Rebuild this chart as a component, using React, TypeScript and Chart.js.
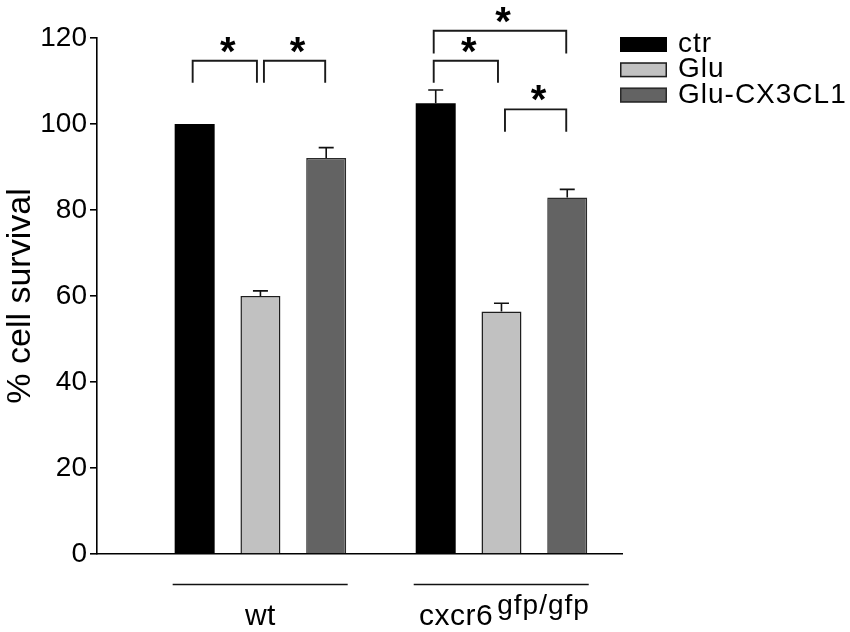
import React, { useEffect, useRef } from "react";
import { Chart, registerables } from "chart.js";

Chart.register(...registerables);

// ---------- data ----------
const categories = ["wt", "cxcr6"];
const categorySuperscripts = ["", "gfp/gfp"];
const seriesNames = ["ctr", "Glu", "Glu-CX3CL1"];
const ctrValues = [100, 104.8];
const gluValues = [60, 56.4];
const gluCxValues = [92.1, 82.9];
const ctrErrors = [0, 3.1];
const gluErrors = [1.2, 1.9];
const gluCxErrors = [2.4, 1.9];
const yTicks = [0, 20, 40, 60, 80, 100, 120];
const yTitle = "% cell survival";
// significance brackets: group index, series from/to, bracket top value, leg bottom value
const sigGroups = [0, 0, 1, 1, 1];
const sigFrom = [0, 1, 0, 0, 1];
const sigTo = [1, 2, 1, 2, 2];
const sigTop = [114.7, 114.7, 114.7, 121.7, 103.4];
const sigBottom = [109.6, 109.6, 109.6, 116.4, 98.2];
const sigLabel = "*";

const FONT = "'Liberation Sans', Arial, Helvetica, sans-serif";
const fills = ["#000000", "#c1c1c1", "#636363"];
const borders = ["#000000", "#1e1e1e", "#2a2a2a"];

export default function App() {
  const ref = useRef<HTMLCanvasElement | null>(null);

  useEffect(() => {
    document.body.style.margin = "0";
    const canvas = ref.current;
    if (!canvas) return;

    const valueSets = [ctrValues, gluValues, gluCxValues];
    const errorSets = [ctrErrors, gluErrors, gluCxErrors];

    const overlay = {
      id: "overlay",
      afterDatasetsDraw(chart: any) {
        const ctx = chart.ctx as CanvasRenderingContext2D;
        const ys = chart.scales.y;
        ctx.save();
        ctx.strokeStyle = "#111";
        ctx.lineWidth = 1.6;
        // error bars (upper only)
        valueSets.forEach((vals, d) => {
          const meta = chart.getDatasetMeta(d);
          vals.forEach((v, i) => {
            const e = errorSets[d][i];
            if (!e) return;
            const bar = meta.data[i];
            const x = bar.x;
            const y0 = ys.getPixelForValue(v);
            const y1 = ys.getPixelForValue(v + e);
            ctx.beginPath();
            ctx.moveTo(x, y0);
            ctx.lineTo(x, y1);
            ctx.moveTo(x - 7.5, y1);
            ctx.lineTo(x + 7.5, y1);
            ctx.stroke();
          });
        });
        // significance brackets
        ctx.strokeStyle = "#1a1a1a";
        ctx.lineWidth = 1.9;
        sigGroups.forEach((g, k) => {
          const f = sigFrom[k];
          const t = sigTo[k];
          // where two brackets meet on the same bar, leave a small gap
          const fromIsAnyTo = sigGroups.some((g2, j) => j !== k && g2 === g && sigTo[j] === f);
          const toIsAnyFrom = sigGroups.some(
            (g2, j) => j !== k && g2 === g && sigFrom[j] === t && sigTo[j] !== t
          );
          const xf0 = chart.getDatasetMeta(f).data[g].x;
          const xt0 = chart.getDatasetMeta(t).data[g].x;
          const xl = xf0 + (fromIsAnyTo ? 3.5 : -2);
          const xr = xt0 + (toIsAnyFrom ? -3.5 : -1);
          const yt = ys.getPixelForValue(sigTop[k]);
          const yb = ys.getPixelForValue(sigBottom[k]);
          ctx.beginPath();
          ctx.moveTo(xl, yb);
          ctx.lineTo(xl, yt);
          ctx.lineTo(xr, yt);
          ctx.lineTo(xr, yb);
          ctx.stroke();
          ctx.fillStyle = "#000";
          ctx.font = `bold 40px ${FONT}`;
          ctx.textAlign = "center";
          ctx.textBaseline = "middle";
          ctx.fillText(sigLabel, (xl + xr) / 2 + 3, yt - 16 + 9);
        });
        ctx.restore();
      },
      afterDraw(chart: any) {
        const ctx = chart.ctx as CanvasRenderingContext2D;
        const area = chart.chartArea;
        ctx.save();
        // group underlines and labels
        categories.forEach((cat, i) => {
          const first = chart.getDatasetMeta(0).data[i];
          const last = chart.getDatasetMeta(valueSets.length - 1).data[i];
          const left = first.x - first.width / 2 - 2;
          const right = last.x + last.width / 2 + 1.5;
          const lineY = area.bottom + 30.5;
          ctx.strokeStyle = "#111";
          ctx.lineWidth = 1.6;
          ctx.beginPath();
          ctx.moveTo(left, lineY);
          ctx.lineTo(right, lineY);
          ctx.stroke();
          const center = (first.x + last.x) / 2;
          ctx.fillStyle = "#000";
          ctx.textBaseline = "alphabetic";
          ctx.textAlign = "left";
          (ctx as any).letterSpacing = "0.5px";
          ctx.font = `30px ${FONT}`;
          const w1 = ctx.measureText(cat).width;
          const sup = categorySuperscripts[i];
          let w2 = 0;
          const gap = sup ? 4 : 0;
          if (sup) {
            ctx.font = `28px ${FONT}`;
            (ctx as any).letterSpacing = "1px";
            w2 = ctx.measureText(sup).width;
          }
          const start = center - (w1 + gap + w2) / 2 + (sup ? 3 : 0);
          ctx.font = `30px ${FONT}`;
          (ctx as any).letterSpacing = "0.5px";
          ctx.fillText(cat, start, area.bottom + 71);
          if (sup) {
            ctx.font = `28px ${FONT}`;
            (ctx as any).letterSpacing = "1px";
            ctx.fillText(sup, start + w1 + gap, area.bottom + 60);
          }
        });
        // legend
        const lx = area.right - 2;
        const ly = 37;
        const bw = 47;
        const bh = 15;
        const step = 25.3;
        seriesNames.forEach((name, k) => {
          const top = ly + k * step;
          ctx.fillStyle = fills[k];
          ctx.fillRect(lx, top, bw, bh);
          if (k > 0) {
            ctx.strokeStyle = borders[k];
            ctx.lineWidth = 1.5;
            ctx.strokeRect(lx + 0.75, top + 0.75, bw - 1.5, bh - 1.5);
          }
          ctx.fillStyle = "#000";
          ctx.font = `28px ${FONT}`;
          (ctx as any).letterSpacing = "1px";
          ctx.textAlign = "left";
          ctx.textBaseline = "alphabetic";
          ctx.fillText(name, lx + 58, top + bh);
        });
        ctx.restore();
      },
    };

    const chart = new Chart(canvas, {
      type: "bar",
      data: {
        datasets: seriesNames.map((name, d) => ({
          label: name,
          data: categories.map((_, i) => ({ x: i + 1, y: valueSets[d][i] })),
          backgroundColor: fills[d],
          borderColor: borders[d],
          borderWidth: d === 0 ? 0 : 1.5,
          categoryPercentage: 0.8185,
          barPercentage: 0.608,
        })),
      },
      options: {
        animation: false,
        responsive: true,
        maintainAspectRatio: false,
        layout: { padding: { top: 38, right: 228, left: 0, bottom: 0 } },
        plugins: {
          legend: { display: false },
          tooltip: { enabled: false },
        },
        scales: {
          x: {
            type: "linear",
            min: 0.322,
            max: 2.5,
            offset: false,
            afterBuildTicks: (s: any) => {
              s.ticks = categories.map((_, i) => ({ value: i + 1 }));
            },
            afterFit: (s: any) => {
              s.height = 78;
            },
            ticks: { display: false },
            grid: { display: false },
            border: { display: true, color: "#000", width: 1.6 },
          },
          y: {
            min: 0,
            max: 120,
            afterBuildTicks: (s: any) => {
              s.ticks = yTicks.map((v) => ({ value: v }));
            },
            afterFit: (s: any) => {
              s.width = 97;
            },
            ticks: { color: "#000", font: { size: 28, family: FONT }, padding: 3 },
            grid: {
              drawOnChartArea: false,
              drawTicks: true,
              tickLength: 7,
              color: "#000",
              lineWidth: 1.6,
            },
            border: { display: true, color: "#000", width: 1.6 },
            title: {
              display: true,
              text: yTitle,
              color: "#000",
              font: { size: 34, family: FONT },
              padding: 0,
            },
          },
        },
      } as any,
      plugins: [overlay],
    });

    return () => chart.destroy();
  }, []);

  return (
    <div style={{ width: 850, height: 632, position: "relative", background: "#fff" }}>
      <canvas ref={ref} />
    </div>
  );
}
